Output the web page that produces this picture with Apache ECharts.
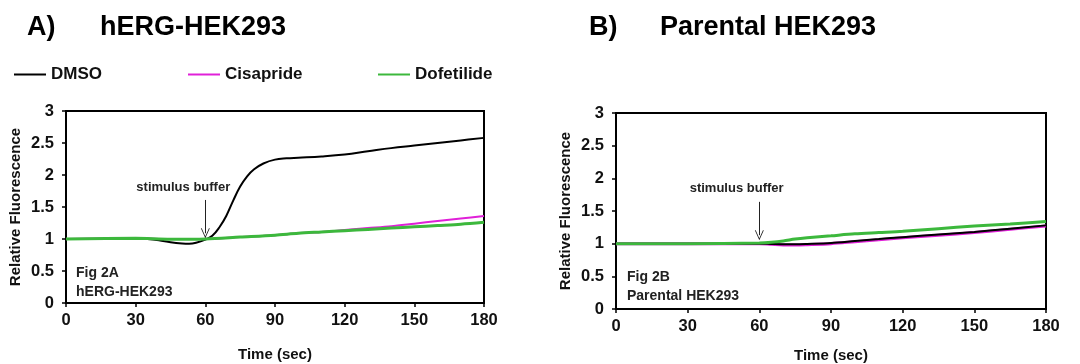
<!DOCTYPE html>
<html>
<head>
<meta charset="utf-8">
<script src="https://cdn.jsdelivr.net/npm/echarts@6/dist/echarts.min.js"></script>
<style>
  html, body { margin: 0; padding: 0; background: #fff; }
  #chart { width: 1080px; height: 364px; }
</style>
</head>
<body>
<div id="chart"></div>
<script>
// time axis (sec)
var timeTicks = [0, 30, 60, 90, 120, 150, 180];

// A) hERG-HEK293
var leftTime = [0, 10, 20, 30, 35, 40, 45, 50, 53, 56, 60, 63, 66, 69, 72, 75, 78, 81, 85, 90, 95, 100, 110, 120, 130, 140, 150, 160, 170, 180];
var leftDmso = [1.0, 1.0, 1.0, 1.01, 1.0, 0.98, 0.95, 0.93, 0.925, 0.94, 0.99, 1.05, 1.18, 1.36, 1.6, 1.82, 1.98, 2.09, 2.18, 2.24, 2.26, 2.27, 2.29, 2.32, 2.37, 2.42, 2.46, 2.5, 2.54, 2.58];
var leftTime2 = [0, 30, 45, 60, 75, 90, 100, 110, 120, 130, 140, 150, 160, 170, 180];
var leftCisapride = [1.0, 1.01, 1.0, 1.0, 1.03, 1.06, 1.09, 1.11, 1.14, 1.17, 1.2, 1.24, 1.28, 1.32, 1.36];
var leftDofetilide = [1.0, 1.01, 0.995, 1.0, 1.03, 1.06, 1.09, 1.11, 1.13, 1.15, 1.17, 1.19, 1.21, 1.23, 1.26];

// B) Parental HEK293
var rightTime = [0, 30, 60, 65, 70, 75, 80, 90, 100, 110, 120, 135, 150, 165, 180];
var rightDmso = [1.0, 1.0, 1.0, 0.995, 0.99, 0.99, 0.995, 1.01, 1.04, 1.07, 1.1, 1.14, 1.18, 1.23, 1.28];
var rightCisapride = [1.0, 1.0, 1.0, 0.99, 0.98, 0.98, 0.985, 1.0, 1.03, 1.06, 1.09, 1.13, 1.17, 1.22, 1.27];
var rightDofetilide = [1.0, 1.0, 1.01, 1.02, 1.04, 1.07, 1.09, 1.12, 1.15, 1.17, 1.19, 1.23, 1.27, 1.3, 1.34];

var FONT = "'Liberation Sans', Arial, sans-serif";
var arrowHead = 'path://M0,10 L5,0 L10,10 L9,10 L5,2 L1,10 Z';

function pairs(t, v) {
  return t.map(function (x, i) { return [x, v[i]]; });
}

function xAxis(idx, gap) {
  return {
    type: 'value', gridIndex: idx, min: 0, max: 180, interval: 30,
    name: 'Time (sec)', nameLocation: 'middle', nameGap: gap,
    nameTextStyle: { fontFamily: FONT, fontWeight: 'bold', fontSize: 15, color: '#111' },
    axisLine: { lineStyle: { color: '#000', width: 2 } },
    axisTick: { show: true, length: 4, lineStyle: { color: '#000', width: 1.5 } },
    axisLabel: { fontFamily: FONT, fontWeight: 'bold', fontSize: 16.5, color: '#111', margin: 9 },
    splitLine: { show: false }
  };
}

function yAxis(idx) {
  return {
    type: 'value', gridIndex: idx, min: 0, max: 3, interval: 0.5,
    name: 'Relative Fluorescence', nameLocation: 'middle', nameGap: 43, nameRotate: 90,
    nameTextStyle: { fontFamily: FONT, fontWeight: 'bold', fontSize: 15, color: '#111' },
    axisLine: { show: true, lineStyle: { color: '#000', width: 2 } },
    axisTick: { show: true, length: 4, lineStyle: { color: '#000', width: 1.5 } },
    axisLabel: { fontFamily: FONT, fontWeight: 'bold', fontSize: 16.5, color: '#111', margin: 12 },
    splitLine: { show: false }
  };
}

function stimulus(textPos, top, bottom) {
  return {
    markLine: {
      silent: true,
      symbol: ['none', arrowHead],
      symbolSize: [9, 10],
      lineStyle: { color: '#222', width: 1, type: 'solid' },
      label: { show: false },
      data: [[{ coord: [60, top] }, { coord: [60, bottom] }]]
    },
    markPoint: {
      silent: true,
      symbol: 'circle', symbolSize: 1,
      itemStyle: { color: 'transparent' },
      label: {
        show: true, position: 'inside', formatter: 'stimulus buffer',
        fontFamily: FONT, fontWeight: 'bold', fontSize: 13, color: '#222'
      },
      data: [{ coord: textPos }]
    }
  };
}

function line(name, color, width, xi, data, smooth, extra) {
  var s = {
    name: name, type: 'line', xAxisIndex: xi, yAxisIndex: xi,
    data: data, showSymbol: false, smooth: smooth,
    lineStyle: { color: color, width: width },
    itemStyle: { color: color }
  };
  if (extra) { Object.assign(s, extra); }
  return s;
}

function legendItem(name, left) {
  return {
    data: [name], left: left, top: 61, icon: 'rect',
    itemWidth: 32, itemHeight: 2, selectedMode: false,
    textStyle: { fontFamily: FONT, fontWeight: 'bold', fontSize: 17, color: '#111' }
  };
}

var chart = echarts.init(document.getElementById('chart'));
chart.setOption({
  animation: false,
  backgroundColor: '#fff',
  title: [
    { text: 'A)', left: 22, top: 9, textStyle: { fontFamily: FONT, fontWeight: 'bold', fontSize: 27, color: '#000' } },
    { text: 'hERG-HEK293', left: 95, top: 9, textStyle: { fontFamily: FONT, fontWeight: 'bold', fontSize: 27, color: '#000' } },
    { text: 'B)', left: 584, top: 9, textStyle: { fontFamily: FONT, fontWeight: 'bold', fontSize: 27, color: '#000' } },
    { text: 'Parental HEK293', left: 655, top: 9, textStyle: { fontFamily: FONT, fontWeight: 'bold', fontSize: 27, color: '#000' } }
  ],
  legend: [legendItem('DMSO', 9), legendItem('Cisapride', 183), legendItem('Dofetilide', 373)],
  grid: [
    { left: 66, top: 111, width: 418, height: 192, outerBoundsMode: 'none', show: true, borderColor: '#000', borderWidth: 2, backgroundColor: 'transparent' },
    { left: 616, top: 113, width: 430, height: 196, outerBoundsMode: 'none', show: true, borderColor: '#000', borderWidth: 2, backgroundColor: 'transparent' }
  ],
  xAxis: [xAxis(0, 44), xAxis(1, 39)],
  yAxis: [yAxis(0), yAxis(1)],
  graphic: [
    { type: 'text', left: 76, top: 264, style: { text: 'Fig 2A\nhERG-HEK293', font: 'bold 14px ' + FONT, lineHeight: 19, fill: '#222' } },
    { type: 'text', left: 627, top: 268, style: { text: 'Fig 2B\nParental HEK293', font: 'bold 14px ' + FONT, lineHeight: 19, fill: '#222' } }
  ],
  series: [
    line('DMSO', '#000', 2, 0, pairs(leftTime, leftDmso), 0.4, stimulus([50.5, 1.81], 1.61, 1.09)),
    line('Cisapride', '#e020d8', 2, 0, pairs(leftTime2, leftCisapride), 0.3),
    line('Dofetilide', '#3cb83c', 3, 0, pairs(leftTime2, leftDofetilide), 0.3),
    line('Cisapride', '#e020d8', 3, 1, pairs(rightTime, rightCisapride), 0.3),
    line('DMSO', '#000', 2, 1, pairs(rightTime, rightDmso), 0.3, stimulus([50.5, 1.84], 1.64, 1.13)),
    line('Dofetilide', '#3cb83c', 3, 1, pairs(rightTime, rightDofetilide), 0.3)
  ]
});
window.addEventListener('resize', function () { chart.resize(); });
</script>
</body>
</html>
